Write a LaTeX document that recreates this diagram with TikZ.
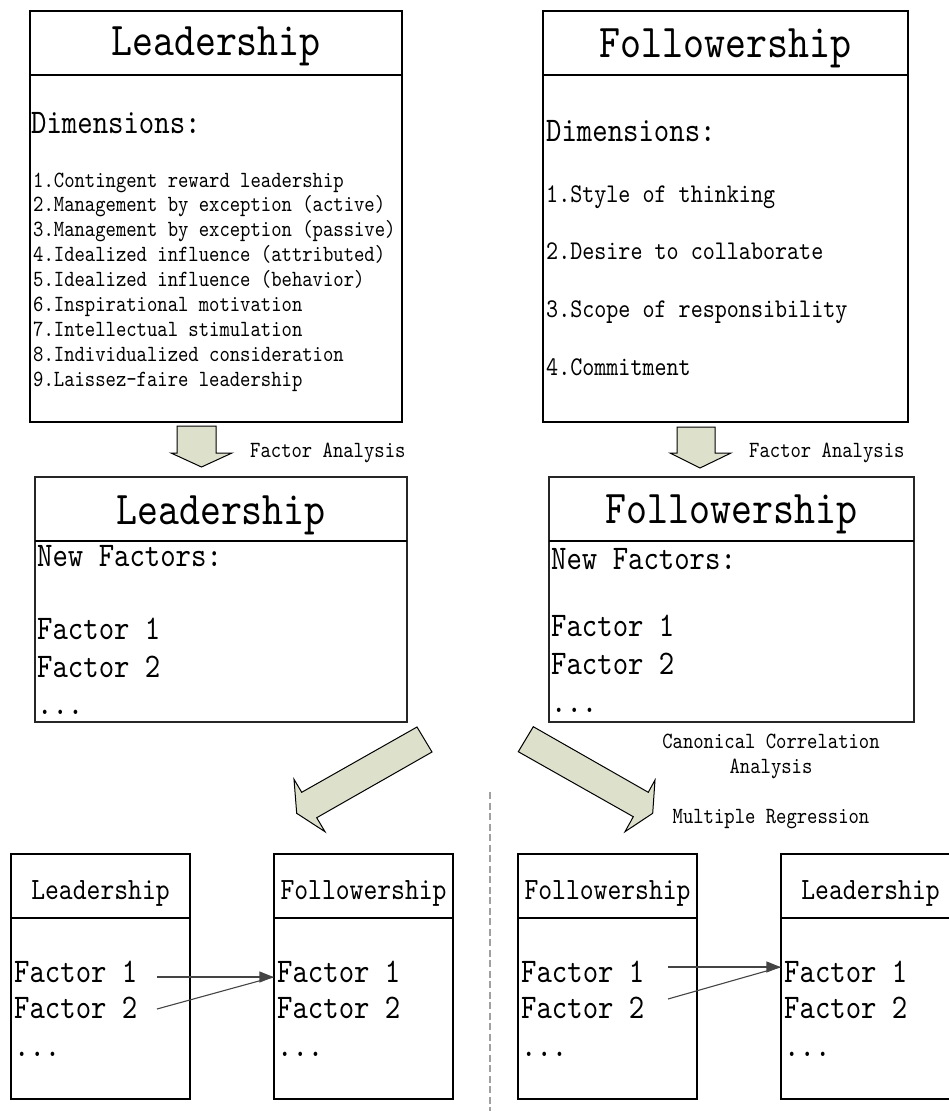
\documentclass[tikz,border=0pt]{standalone}
\usepackage{fontspec}
\newfontfamily\boxfont[FakeStretch=0.85]{lmmono10-regular.otf}
\usetikzlibrary{arrows.meta}
\definecolor{blockfill}{RGB}{221,225,204}
\definecolor{linkgray}{RGB}{68,68,68}
\definecolor{dashgray}{RGB}{160,160,160}

\begin{document}
\begin{tikzpicture}[x=1pt,y=-1pt,
  box/.style={draw=black,line width=1.1pt,rectangle,inner sep=0pt},
  midbox/.style={box,draw=black!85,line width=1.6pt},
  sep/.style={draw=black,line width=1.1pt},
  txt/.style={inner sep=0pt,anchor=base west,font={\boxfont\fontsize{#1}{#1}\selectfont}},
  ttl/.style={inner sep=0pt,anchor=base,font={\boxfont\fontsize{#1}{#1}\selectfont}},
  block/.style={draw=black,line width=1pt,fill=blockfill,line join=miter},
  link/.style={draw=linkgray,line width=1.1pt},
  tip/.style={-{Triangle[length=14pt,width=11pt]}}
]
\useasboundingbox (0,0) rectangle (949,1111);

% ---------- top row: original dimensions ----------
\node[box,minimum width=372pt,minimum height=411pt] (lead) at (216,216.5) {};
\draw[sep] (30,75) -- (402,75);
\node[ttl=47] (leadT) at (216,55) {Leadership};
\node[txt=34.5] (leadD) at (31,133) {Dimensions:};
\foreach \t [count=\i] in {1.Contingent reward leadership,
  2.Management by exception (active),
  3.Management by exception (passive),
  4.Idealized influence (attributed),
  5.Idealized influence (behavior),
  6.Inspirational motivation,
  7.Intellectual stimulation,
  8.Individualized consideration,
  9.Laissez-faire leadership}
  \node[txt=23.2] (leadI\i) at (33,{187+24.9*(\i-1)}) {\t};

\node[box,minimum width=365pt,minimum height=411pt] (foll) at (725.5,216.5) {};
\draw[sep] (543,75) -- (908,75);
\node[ttl=47] (follT) at (725.5,57) {Followership};
\node[txt=34.5] (follD) at (546,141) {Dimensions:};
\foreach \t [count=\i] in {1.Style of thinking,
  2.Desire to collaborate,
  3.Scope of responsibility,
  4.Commitment}
  \node[txt=27] (follI\i) at (546,{202+57.7*(\i-1)}) {\t};

% ---------- factor analysis arrows ----------
\draw[block] (177,426) -- (216,426) -- (216,453) -- (232,453) -- (201.5,467)
  -- (171,453) -- (177,453) -- cycle;
\node[txt=23.2] (faL) at (250,457) {Factor Analysis};
\draw[block] (677,427) -- (715,427) -- (715,453) -- (731,453) -- (700,468)
  -- (670,453) -- (677,453) -- cycle;
\node[txt=23.2] (faR) at (749,457) {Factor Analysis};

% ---------- middle row: new factors ----------
\node[midbox,minimum width=372pt,minimum height=245pt] (leadF) at (221,599.5) {};
\draw[sep,line width=1.4pt] (35,541) -- (407,541);
\node[ttl=47] (leadFT) at (221,524) {Leadership};
\node[txt=34.5] (leadN) at (37,566) {New Factors:};
\node[txt=34.5] (leadF1) at (37,639) {Factor 1};
\node[txt=34.5] (leadF2) at (37,677) {Factor 2};
\node[txt=34.5] (leadFd) at (37,714) {...};

\node[midbox,minimum width=365pt,minimum height=245pt] (follF) at (731.5,599.5) {};
\draw[sep,line width=1.4pt] (549,541) -- (914,541);
\node[ttl=47] (follFT) at (731.5,523) {Followership};
\node[txt=34.5] (follN) at (551,569) {New Factors:};
\node[txt=34.5] (follF1) at (551,636) {Factor 1};
\node[txt=34.5] (follF2) at (551,674) {Factor 2};
\node[txt=34.5] (follFd) at (551,712) {...};

% ---------- diagonal block arrows ----------
\draw[block] (417,727) -- (301.7,792.3) -- (294,779.3) -- (296.7,813.3)
  -- (325,831.7) -- (316.7,817.7) -- (432,752) -- cycle;
\draw[block] (533.3,726.7) -- (648.3,792.3) -- (655,780) -- (652.7,813.3)
  -- (625,831.7) -- (633.3,816.7) -- (518.3,751.7) -- cycle;

\node[ttl=23.2] (cca1) at (771,748) {Canonical Correlation};
\node[ttl=23.2] (cca2) at (771,773) {Analysis};
\node[ttl=23.2] (mreg) at (771,823) {Multiple Regression};

% ---------- separator ----------
\coordinate (dTop) at (490,792);
\coordinate (dBot) at (490,1111);
\draw[dashgray,line width=1.4pt,dash pattern=on 7pt off 3.5pt] (dTop) -- (dBot);

% ---------- bottom row: leadership -> followership ----------
\node[box,minimum width=179pt,minimum height=245pt] (bL1) at (100.5,976.5) {};
\draw[sep] (11,918) -- (190,918);
\node[ttl=31] (bL1T) at (100.5,899) {Leadership};
\node[txt=34.5] (bL1a) at (14,982) {Factor 1};
\node[txt=34.5] (bL1b) at (14,1018) {Factor 2};
\node[txt=34.5] (bL1c) at (14,1056) {...};

\node[box,minimum width=179pt,minimum height=245pt] (bF1) at (363.5,976.5) {};
\draw[sep] (274,918) -- (453,918);
\node[ttl=31] (bF1T) at (363.5,899) {Followership};
\node[txt=34.5] (bF1a) at (277,982) {Factor 1};
\node[txt=34.5] (bF1b) at (277,1018) {Factor 2};
\node[txt=34.5] (bF1c) at (277,1056) {...};

\coordinate (s1) at (157,977);
\coordinate (s2) at (157,1009);
\coordinate (e1) at (bF1.west |- s1);
\draw[link,tip] (s1) -- (e1);
\draw[link] (s2) -- (e1);

% ---------- bottom row: followership -> leadership ----------
\node[box,minimum width=179pt,minimum height=245pt] (bF2) at (607.5,976.5) {};
\draw[sep] (518,918) -- (697,918);
\node[ttl=31] (bF2T) at (607.5,899) {Followership};
\node[txt=34.5] (bF2a) at (521,982) {Factor 1};
\node[txt=34.5] (bF2b) at (521,1018) {Factor 2};
\node[txt=34.5] (bF2c) at (521,1056) {...};

\node[box,minimum width=179pt,minimum height=245pt] (bL2) at (870.5,976.5) {};
\draw[sep] (781,918) -- (960,918);
\node[ttl=31] (bL2T) at (870.5,899) {Leadership};
\node[txt=34.5] (bL2a) at (784,982) {Factor 1};
\node[txt=34.5] (bL2b) at (784,1018) {Factor 2};
\node[txt=34.5] (bL2c) at (784,1056) {...};

\coordinate (s3) at (668,967);
\coordinate (s4) at (668,999);
\coordinate (e2) at (bL2.west |- s3);
\draw[link,tip] (s3) -- (e2);
\draw[link] (s4) -- (e2);
\end{tikzpicture}
\end{document}
